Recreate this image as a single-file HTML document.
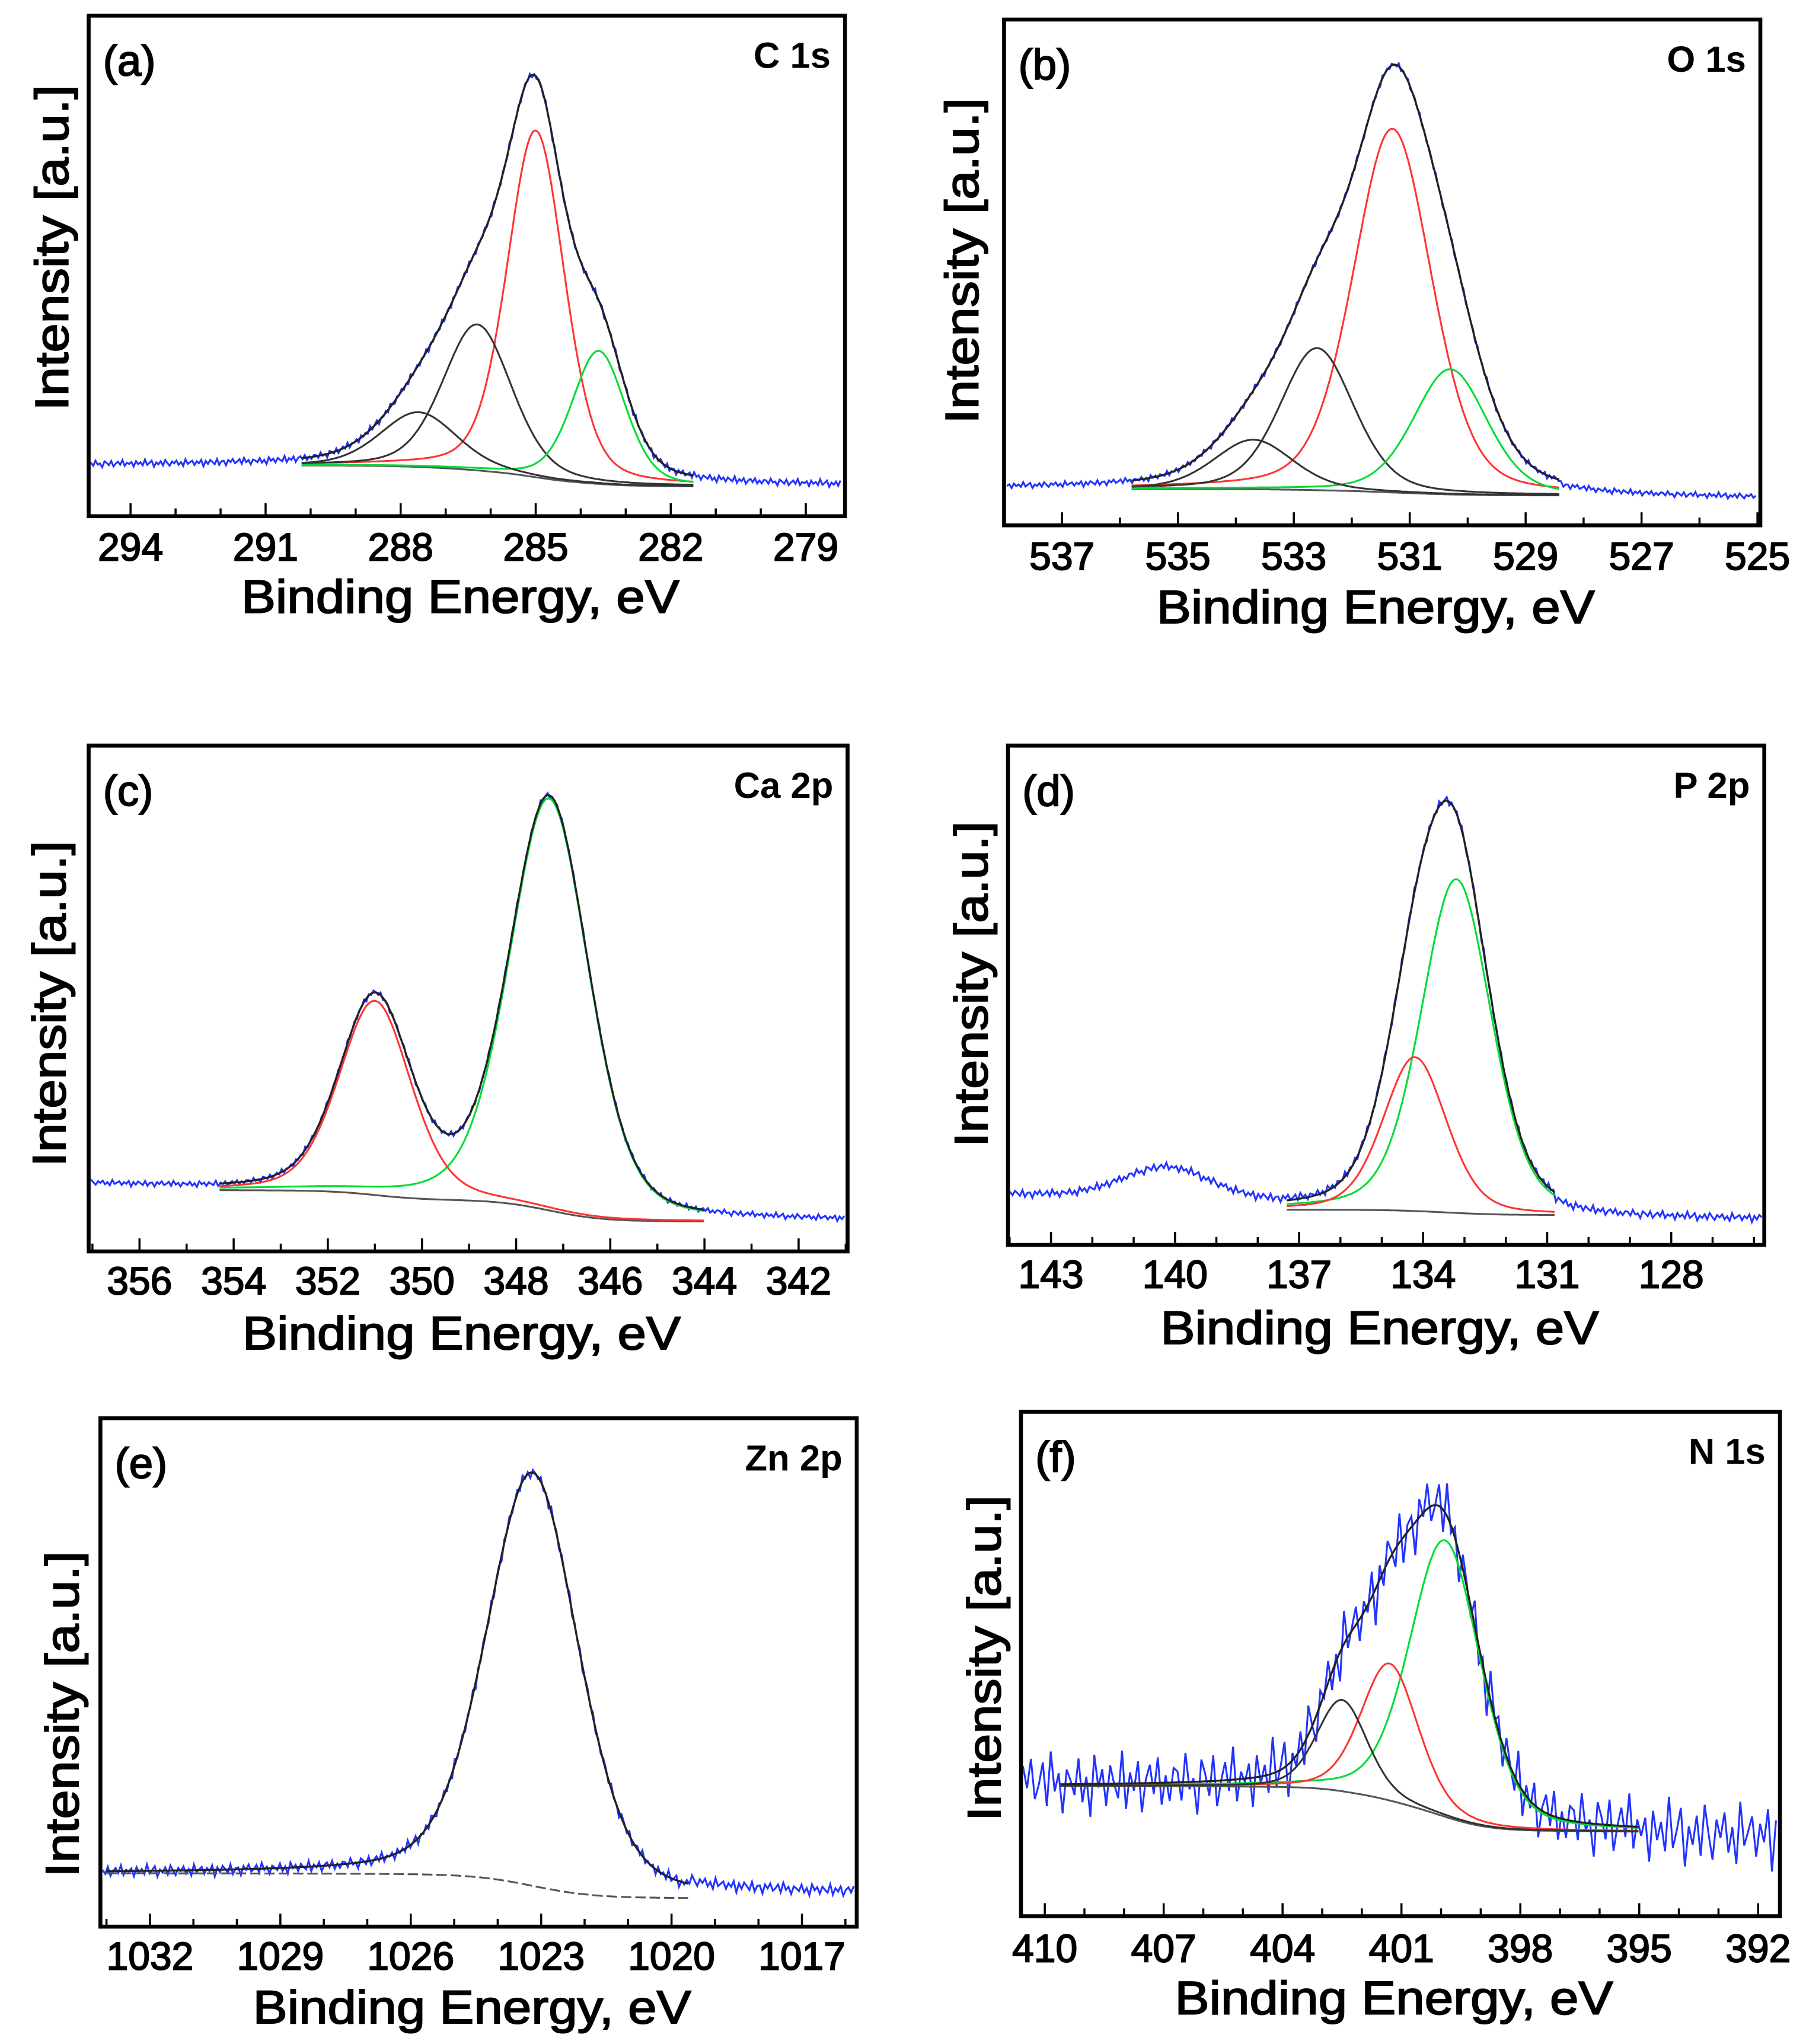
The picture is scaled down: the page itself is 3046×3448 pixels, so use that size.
<!DOCTYPE html>
<html><head><meta charset="utf-8"><style>
html,body{margin:0;padding:0;background:#fff;}
svg{display:block;}
text{font-family:"Liberation Sans",Arial,sans-serif;fill:#000;}
</style></head><body>
<svg id="fig" xmlns="http://www.w3.org/2000/svg" width="3046" height="3448" viewBox="0 0 1385 1568" preserveAspectRatio="none"></svg>
<script>
// ---- shared hand-read noise pattern (for measured spectra) ----
const noisePattern = [0.3,-0.5,0.8,-0.2,0.1,-0.9,0.6,0.2,-0.4,0.7,-0.7,0.0,0.5,-0.3,0.9,-0.6,0.2,-0.1,0.4,-0.8,0.6,-0.2,0.3,-0.5,1.0,-0.4,0.1,0.7,-0.9,0.2,-0.3,0.5,-0.6,0.8,0.0,-0.7,0.4,-0.1,0.6,-0.5,0.2,-0.8,0.9,-0.3,0.1,0.5,-0.6,0.3,-0.2,0.7,-1.0,0.4,-0.4,0.6,0.1,-0.5,0.8,-0.7,0.2,0.3,-0.9,0.5,-0.1,0.7,-0.4,0.0,0.6,-0.6,0.9,-0.2,0.3,-0.8,0.4,0.1,-0.3,0.7,-0.5,0.2,-0.9,0.8,-0.1,0.4,-0.6,0.5,0.0,-0.4,0.9,-0.7,0.3,-0.2,0.6,-0.8,0.1,0.5,-0.3,0.7,-0.6,0.2,-0.5,0.4];

// ---- (a) C 1s ----
const aTicks = [294,291,288,285,282,279];
const aCenters = [285.0,286.3,283.6,287.6];
const aHeights = [266,112,102,42];
const aFwhm = [1.5,1.8,1.4,2.0];
const aColors = ["#ff3333","#333333","#00dd33","#333333"];
const aBase = [39,23];
// ---- (b) O 1s ----
const bTicks = [537,535,533,531,529,527,525];
const bCenters = [531.3,532.6,530.3,533.7];
const bHeights = [279,109,96,38];
const bFwhm = [1.6,1.5,1.5,1.6];
const bColors = ["#ff3333","#333333","#00dd33","#333333"];
const bBase = [28,23];
// ---- (c) Ca 2p ----
const cTicks = [356,354,352,350,348,346,344,342];
const cCenters = [347.3,351.0];
const cHeights = [316,149];
const cFwhm = [2.0,1.8];
const cColors = ["#00dd33","#ff3333"];
const cBase = [47,23];
// ---- (d) P 2p ----
const dTicks = [143,140,137,134,131,128];
const dCenters = [133.2,134.2];
const dHeights = [256,118];
const dFwhm = [2.0,1.8];
const dColors = ["#00dd33","#ff3333"];
const dBase = [27,23];
const dExtraCenters = [140.2];
const dExtraHeights = [26];
const dExtraFwhm = [2.6];
// ---- (e) Zn 2p ----
const eTicks = [1032,1029,1026,1023,1020,1017];
const eCenters = [1023.2];
const eHeights = [317];
const eFwhm = [2.5];
const eColors = ["#333333"];
const eBase = [41,22];
// ---- (f) N 1s ----
const fTicks = [410,407,404,401,398,395,392];
const fCenters = [399.9,401.3,402.5];
const fHeights = [212,105,70];
const fFwhm = [2.1,1.7,1.5];
const fColors = ["#00dd33","#ff3333","#333333"];
const fBase = [100,65];

const svg = document.getElementById('fig');
const NS = "http://www.w3.org/2000/svg";
function mk(tag, attrs, parent){
  const e = document.createElementNS(NS, tag);
  for (const k in attrs) e.setAttribute(k, attrs[k]);
  (parent||svg).appendChild(e);
  return e;
}
function pv(d, w){
  const eta = 0.3;
  return (1-eta)*Math.exp(-4*Math.LN2*d*d/(w*w)) + eta/(1+4*d*d/(w*w));
}

function drawPanel(p){
  const g = mk('g', {});
  
  
  const B = p.box;
  const xs = E => B.l + (p.eL - E)/(p.eL - p.eR)*(B.r - B.l);
  const ys = I => B.b - I;
  const sumPeaks = E => { let s=0; for (let i=0;i<p.centers.length;i++) s += p.heights[i]*pv(E-p.centers[i], p.fwhm[i]); return s; };
  const step = 0.02;
  const grid=[]; for (let E=p.fitMin; E<=p.fitMax+1e-9; E+=step) grid.push(E);
  const cum=[0]; for (let i=1;i<grid.length;i++) cum.push(cum[i-1] + sumPeaks(grid[i])*step);
  const tot = cum[cum.length-1];
  const shirley = E => {
    if (E<=p.fitMin) return p.base[1];
    if (E>=p.fitMax) return p.base[0];
    const i = Math.min(grid.length-1, Math.round((E-p.fitMin)/step));
    return p.base[1] + (p.base[0]-p.base[1])*cum[i]/tot;
  };
  let dpts=[]; let k=p.noiseOffset||0;
  for (let E=p.eL - 0.05; E>=p.eR+0.05; E-=p.dstep){
    let bg = shirley(E);
    if (E>p.fitMax && p.leftRise) bg += (E-p.fitMax)*p.leftRise;
    if (E<p.fitMin && p.rightRise) bg += p.rightRise;
    let v = bg + sumPeaks(E);
    if (p.extraC) for (let i=0;i<p.extraC.length;i++) v += p.extraH[i]*pv(E-p.extraC[i], p.extraW[i]);
    v += noisePattern[k % noisePattern.length]*p.noise; k++;
    dpts.push(xs(E).toFixed(1)+','+ys(v).toFixed(1));
  }
  const data = mk('polyline', {points:dpts.join(' '), fill:'none', stroke:'#2233ff', 'stroke-width':1.4}, g);
  
  
  const fgrid=[]; for (let E=p.fitMax; E>=p.fitMin; E-=0.03) fgrid.push(E);
  const bl = mk('polyline', {points:fgrid.map(E=>xs(E).toFixed(1)+','+ys(shirley(E)).toFixed(1)).join(' '), fill:'none', stroke:'#555', 'stroke-width':1.4, 'stroke-dasharray': p.dashBase?'8,3':'none'}, g);
  
  
  for (let i=0;i<p.centers.length;i++){
    const pts = fgrid.map(E=>xs(E).toFixed(1)+','+ys(shirley(E)+p.heights[i]*pv(E-p.centers[i],p.fwhm[i])).toFixed(1)).join(' ');
    const c = mk('polyline', {points:pts, fill:'none', stroke:p.colors[i], 'stroke-width':1.4}, g);
    
    
  }
  const env = mk('polyline', {points:fgrid.map(E=>xs(E).toFixed(1)+','+ys(shirley(E)+sumPeaks(E)).toFixed(1)).join(' '), fill:'none', stroke:'#222', 'stroke-width':1.5}, g);
  
  
  const lo = Math.ceil(p.eR), hi = Math.floor(p.eL);
  for (let E=lo; E<=hi; E++){
    const major = p.ticks.indexOf(E) >= 0;
    const t = mk('line', {x1:xs(E), x2:xs(E), y1:B.b, y2:B.b-(major?10:6), stroke:'#000', 'stroke-width':1.6}, g);
    
    
  }
  for (const E of p.ticks){
    const tl = mk('text', {x:xs(E), y:p.tickY, 'font-size':30, 'text-anchor':'middle', stroke:'#000', 'stroke-width':0.9}, g);
    tl.textContent = E;
    
    
  }
  const fr = mk('rect', {x:B.l, y:B.t, width:B.r-B.l, height:B.b-B.t, fill:'none', stroke:'#000', 'stroke-width':3}, g);
  
  
  const xt = mk('text', {x:(B.l+B.r)/2 - 5, y:p.titleY, 'font-size':36, 'text-anchor':'middle', textLength:336, lengthAdjust:'spacingAndGlyphs', stroke:'#000', 'stroke-width':0.9}, g);
  xt.textContent = 'Binding Energy, eV';
  
  
  const yt = mk('text', {x:0, y:0, 'font-size':36, 'text-anchor':'middle', textLength:250, lengthAdjust:'spacingAndGlyphs', stroke:'#000', 'stroke-width':0.9, transform:'translate('+p.yTitle[0]+','+p.yTitle[1]+') rotate(-90)'}, g);
  yt.textContent = 'Intensity [a.u.]';
  
  
  const pl = mk('text', {x:B.l+11, y:B.t+46, 'font-size':33, stroke:'#000', 'stroke-width':0.9}, g);
  pl.textContent = '(' + p.id + ')';
  
  
  const el = mk('text', {x:B.r-11, y:B.t+40, 'font-size':28, 'font-weight':'bold', 'text-anchor':'end'}, g);
  el.textContent = p.label;
  
  
}

drawPanel({id:'a', label:'C 1s', box:{l:68,t:12,r:648,b:396}, eL:294.93, eR:278.13, ticks:aTicks,
  centers:aCenters, heights:aHeights, fwhm:aFwhm, colors:aColors, base:aBase, fitMin:281.5, fitMax:290.2,
  dstep:0.05, noise:3, tickY:430, titleY:470, yTitle:[52,190]});
drawPanel({id:'b', label:'O 1s', box:{l:770,t:15,r:1350,b:403}, eL:538.0, eR:524.95, ticks:bTicks,
  centers:bCenters, heights:bHeights, fwhm:bFwhm, colors:bColors, base:bBase, fitMin:528.4, fitMax:535.8,
  dstep:0.04, noise:2.5, noiseOffset:17, rightRise:-3, tickY:437, titleY:478, yTitle:[750,200]});
drawPanel({id:'c', label:'Ca 2p', box:{l:68,t:572,r:650,b:960}, eL:357.08, eR:340.96, ticks:cTicks,
  centers:cCenters, heights:cHeights, fwhm:cFwhm, colors:cColors, base:cBase, fitMin:344.0, fitMax:354.3,
  dstep:0.05, noise:2.5, noiseOffset:33, leftRise:1.5, tickY:993, titleY:1035, yTitle:[50,770]});
drawPanel({id:'d', label:'P 2p', box:{l:773,t:572,r:1353,b:955}, eL:144.04, eR:125.75, ticks:dTicks,
  centers:dCenters, heights:dHeights, fwhm:dFwhm, colors:dColors, base:dBase, fitMin:130.8, fitMax:137.3,
  extraC:dExtraCenters, extraH:dExtraHeights, extraW:dExtraFwhm,
  dstep:0.06, noise:3.5, noiseOffset:51, leftRise:1.6, rightRise:-4, tickY:988, titleY:1031, yTitle:[757,755]});
drawPanel({id:'e', label:'Zn 2p', box:{l:77,t:1088,r:657,b:1478}, eL:1033.14, eR:1015.74, ticks:eTicks,
  centers:eCenters, heights:eHeights, fwhm:eFwhm, colors:eColors, base:eBase, fitMin:1019.6, fitMax:1033.0,
  dstep:0.06, noise:5, noiseOffset:7, rightRise:3, dashBase:true, tickY:1511, titleY:1552, yTitle:[60,1315]});
drawPanel({id:'f', label:'N 1s', box:{l:783,t:1083,r:1365,b:1470}, eL:410.6, eR:391.45, ticks:fTicks,
  centers:fCenters, heights:fHeights, fwhm:fFwhm, colors:fColors, base:fBase, fitMin:395.0, fitMax:409.6,
  dstep:0.1, noise:28, noiseOffset:61, rightRise:-4, tickY:1505, titleY:1545, yTitle:[767,1272]});
</script>
</body></html>
